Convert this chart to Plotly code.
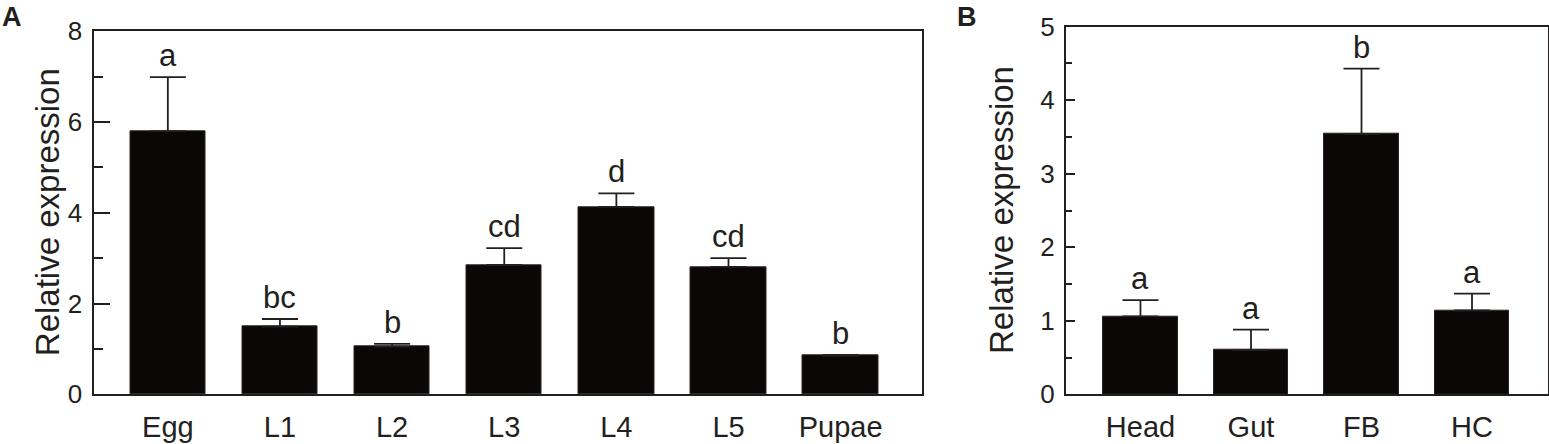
import plotly.graph_objects as go

# Panel A: developmental stages
stages = ["Egg", "L1", "L2", "L3", "L4", "L5", "Pupae"]
stage_mean = [5.80, 1.49, 1.05, 2.85, 4.13, 2.81, 0.85]
stage_err = [1.19, 0.17, 0.06, 0.37, 0.30, 0.19, 0.02]
stage_letters = ["a", "bc", "b", "cd", "d", "cd", "b"]

# Panel B: tissues
tissues = ["Head", "Gut", "FB", "HC"]
tissue_mean = [1.06, 0.60, 3.54, 1.14]
tissue_err = [0.22, 0.28, 0.89, 0.23]
tissue_letters = ["a", "a", "b", "a"]

W, H = 1549, 444
ink = "#231f20"
bar_col = "#0b0707"
font = "Liberation Sans, Arial, sans-serif"

fig = go.Figure()

fig.add_trace(go.Bar(
    x=list(range(len(stages))), y=stage_mean, width=0.673,
    marker=dict(color=bar_col, line=dict(color="#2b2323", width=1)),
    error_y=dict(type="data", array=stage_err, arrayminus=[0] * len(stages),
                 symmetric=False, color=ink, thickness=1.8, width=18),
    xaxis="x", yaxis="y", showlegend=False,
))
fig.add_trace(go.Bar(
    x=list(range(len(tissues))), y=tissue_mean, width=0.676,
    marker=dict(color=bar_col, line=dict(color="#2b2323", width=1)),
    error_y=dict(type="data", array=tissue_err, arrayminus=[0] * len(tissues),
                 symmetric=False, color=ink, thickness=1.8, width=18),
    xaxis="x2", yaxis="y2", showlegend=False,
))

# significance letters above the error bars
for i, (m, e, t) in enumerate(zip(stage_mean, stage_err, stage_letters)):
    fig.add_annotation(x=i, y=m + e, xref="x", yref="y", text=t, showarrow=False,
                       yanchor="bottom", yshift=2, font=dict(size=31, color=ink, family=font))
for i, (m, e, t) in enumerate(zip(tissue_mean, tissue_err, tissue_letters)):
    fig.add_annotation(x=i, y=m + e, xref="x2", yref="y2", text=t, showarrow=False,
                       yanchor="bottom", yshift=2, font=dict(size=31, color=ink, family=font))

# axis titles and panel labels
fig.add_annotation(x=27 / W, y=0.521, xref="paper", yref="paper", text="Relative expression",
                   textangle=-90, showarrow=False, font=dict(size=33, color=ink, family=font))
fig.add_annotation(x=1001 / W, y=0.527, xref="paper", yref="paper", text="Relative expression",
                   textangle=-90, showarrow=False, font=dict(size=33, color=ink, family=font))
fig.add_annotation(x=0, y=1, xref="paper", yref="paper", text="<b>A</b>", xanchor="left",
                   yanchor="top", showarrow=False, font=dict(size=27, color=ink, family=font))
fig.add_annotation(x=955 / W, y=1, xref="paper", yref="paper", text="<b>B</b>", xanchor="left",
                   yanchor="top", showarrow=False, font=dict(size=27, color=ink, family=font))

xcommon = dict(showline=True, linecolor=ink, linewidth=2, mirror=True, ticks="",
               showgrid=False, zeroline=False, tickmode="array", automargin=False,
               tickfont=dict(size=29, color=ink, family=font), ticklabelstandoff=6)
ycommon = dict(showline=True, linecolor=ink, linewidth=2, mirror=True, ticks="inside",
               tickcolor=ink, tickwidth=2, showgrid=False, zeroline=False, automargin=False,
               tickfont=dict(size=26, color=ink, family=font), ticklabelstandoff=4)

fig.update_layout(
    template="none",
    width=W, height=H,
    margin=dict(l=0, r=0, t=0, b=0, pad=0),
    paper_bgcolor="white", plot_bgcolor="white",
    bargap=0,
    xaxis=dict(domain=[93.5 / W, 921.7 / W], range=[-0.663, 6.723],
               tickvals=list(range(len(stages))), ticktext=stages, **xcommon),
    yaxis=dict(domain=[(H - 394.3) / H, (H - 31.3) / H], range=[0, 8], dtick=2, ticklen=16,
               minor=dict(dtick=1, ticks="inside", ticklen=9, tickcolor=ink, tickwidth=2),
               anchor="x", **ycommon),
    xaxis2=dict(domain=[1066 / W, 1547.7 / W], range=[-0.674, 3.685],
                tickvals=list(range(len(tissues))), ticktext=tissues, anchor="y2", **xcommon),
    yaxis2=dict(domain=[(H - 394.3) / H, (H - 26.7) / H], range=[0, 5], dtick=1, ticklen=9,
                minor=dict(dtick=0.5, ticks="inside", ticklen=6, tickcolor=ink, tickwidth=2),
                anchor="x2", **ycommon),
)

# drop the default page margin so the figure sits at the window's top-left corner
fig.write_html("out.html", config={"displayModeBar": False},
               post_script="document.body.style.margin='0';")
